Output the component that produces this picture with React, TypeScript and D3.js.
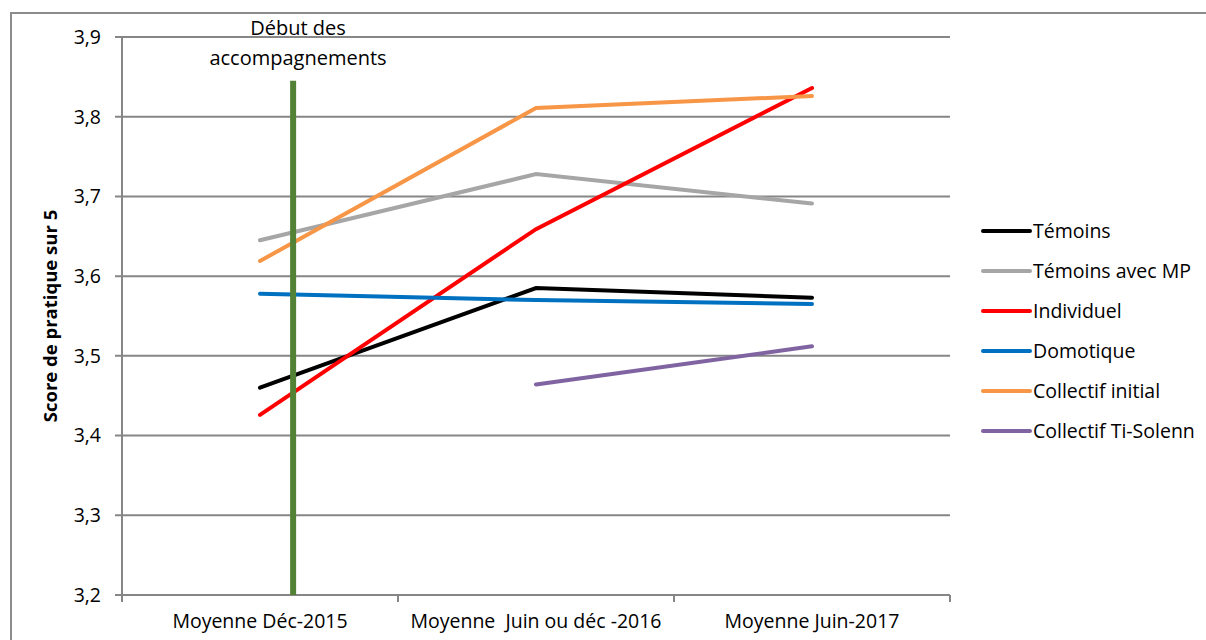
import React from "react";
import * as d3 from "d3";

// Valeurs
const categories = ["Moyenne Déc-2015", "Moyenne  Juin ou déc -2016", "Moyenne Juin-2017"];
const yTicks = [3.2, 3.3, 3.4, 3.5, 3.6, 3.7, 3.8, 3.9];

const temoins = [3.46, 3.585, 3.573];
const temoinsMP = [3.645, 3.728, 3.691];
const individuel = [3.426, 3.659, 3.836];
const domotique = [3.578, 3.57, 3.565];
const collectifInitial = [3.619, 3.811, 3.826];
const collectifTiSolenn = [null, 3.464, 3.512];

const seriesNames = ["Témoins", "Témoins avec MP", "Individuel", "Domotique", "Collectif initial", "Collectif Ti-Solenn"];
const seriesColors = ["#000000", "#A6A6A6", "#FF0000", "#0070C0", "#F79646", "#8064A2"];

// barre verticale "Début des accompagnements" (position en index de catégorie)
const startMarkerPos = 0.12;
const startMarkerTop = 3.845;

const W = 1206;
const H = 640;
const margin = { left: 122, right: 256, top: 37, bottom: 45 };
const font = "'Open Sans', sans-serif";
const fs = 19.5;

const App: React.FC = () => {
  const series = [temoins, temoinsMP, individuel, domotique, collectifInitial, collectifTiSolenn];
  const x0 = margin.left;
  const x1 = W - margin.right;
  const y0 = H - margin.bottom;
  const y1 = margin.top;

  const xBand = d3.scaleBand<string>().domain(categories).range([x0, x1]);
  const xIdx = d3.scaleLinear().domain([-0.5, categories.length - 0.5]).range([x0, x1]);
  const y = d3.scaleLinear().domain([3.2, 3.9]).range([y0, y1]);

  const line = d3
    .line<number | null>()
    .defined((d) => d !== null)
    .x((_, i) => xIdx(i))
    .y((d) => y(d as number));

  const boundaries = d3.range(categories.length + 1).map((i) => xIdx(i - 0.5));
  const markerX = xIdx(startMarkerPos);

  return (
    <svg width={W} height={H} style={{ position: "absolute", left: 0, top: 0 }}>
      <rect x={0} y={0} width={W} height={H} fill="#fff" />
      {/* cadre */}
      <rect x={11} y={13} width={W} height={H} fill="none" stroke="#8c8c8c" strokeWidth={2} />

      {/* grille */}
      {yTicks.map((t) => (
        <g key={t}>
          <line x1={x0 - 7} x2={x1} y1={y(t)} y2={y(t)} stroke="#868686" strokeWidth={2} />
          <text x={x0 - 21} y={y(t)} dy="0.35em" textAnchor="end" fontFamily={font} fontSize={fs} fill="#000">
            {d3.format(".1f")(t).replace(".", ",")}
          </text>
        </g>
      ))}
      <line x1={x0} x2={x0} y1={y1} y2={y0} stroke="#868686" strokeWidth={2} />
      {boundaries.map((bx, i) => (
        <line key={i} x1={bx} x2={bx} y1={y0} y2={y0 + 7} stroke="#868686" strokeWidth={2} />
      ))}
      {categories.map((c) => (
        <text
          key={c}
          x={(xBand(c) ?? 0) + xBand.bandwidth() / 2}
          y={y0 + 33}
          textAnchor="middle"
          fontFamily={font}
          fontSize={fs}
          fill="#000"
          style={{ whiteSpace: "pre" }}
        >
          {c}
        </text>
      ))}

      {/* titre axe */}
      <text
        transform={`translate(51,${(y0 + y1) / 2}) rotate(-90)`}
        textAnchor="middle"
        dy="0.35em"
        fontFamily={font}
        fontSize={18.5}
        fontWeight="bold"
        fill="#000"
      >
        Score de pratique sur 5
      </text>

      {/* séries */}
      {series.map((s, i) => (
        <path key={i} d={line(s) ?? ""} fill="none" stroke={seriesColors[i]} strokeWidth={4} strokeLinecap="round" />
      ))}

      {/* début des accompagnements */}
      <line x1={markerX} x2={markerX} y1={y(3.2)} y2={y(startMarkerTop)} stroke="#538135" strokeWidth={6} />
      <text textAnchor="middle" fontFamily={font} fontSize={20} fill="#000">
        <tspan x={298} y={35}>Début des</tspan>
        <tspan x={298} y={65}>accompagnements</tspan>
      </text>

      {/* légende */}
      {seriesNames.map((n, i) => {
        const ly = 231 + i * 40;
        return (
          <g key={n}>
            <line x1={983} x2={1030} y1={ly} y2={ly} stroke={seriesColors[i]} strokeWidth={4} strokeLinecap="round" />
            <text x={1033} y={ly} dy="0.35em" fontFamily={font} fontSize={fs} fill="#000">
              {n}
            </text>
          </g>
        );
      })}
    </svg>
  );
};

export default App;
